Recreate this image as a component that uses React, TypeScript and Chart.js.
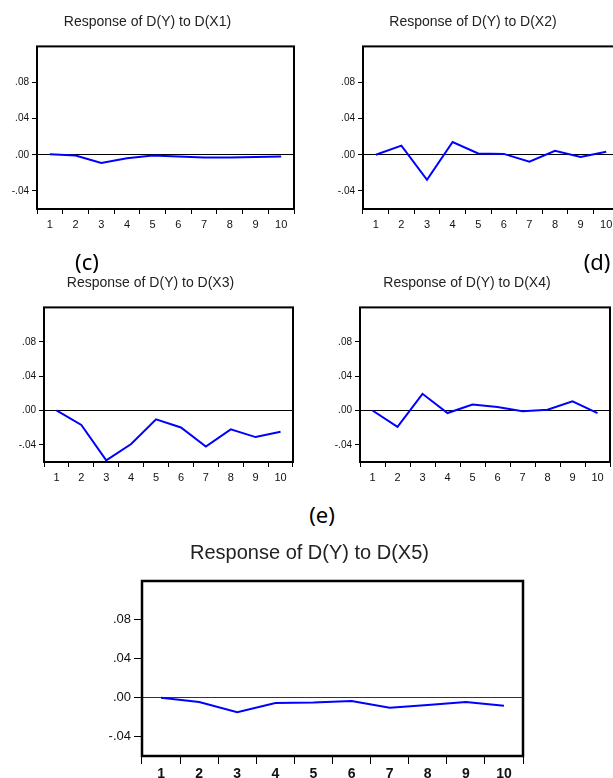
import React, { useEffect, useRef } from 'react';
import { Chart, registerables } from 'chart.js';

Chart.register(...registerables);

// ---- data ----
const periods = ['1', '2', '3', '4', '5', '6', '7', '8', '9', '10'];
const yTickValues = [-0.04, 0, 0.04, 0.08];
const yTickLabels = ['-.04', '.00', '.04', '.08'];
const yMin = -0.06;
const yMax = 0.12;

const respX1 = [0.0007, -0.0007, -0.009, -0.0037, -0.0007, -0.002, -0.003, -0.003, -0.0025, -0.002];
const respX2 = [0.0, 0.0102, -0.0276, 0.0142, 0.0015, 0.001, -0.0076, 0.0044, -0.0025, 0.0033];
const respX3 = [0.0, -0.0168, -0.058, -0.039, -0.0103, -0.0198, -0.042, -0.022, -0.031, -0.0248];
const respX4 = [0.0, -0.019, 0.0194, -0.003, 0.0069, 0.004, -0.0008, 0.0008, 0.0107, -0.003];
const respX5 = [0.0, -0.0044, -0.015, -0.0055, -0.005, -0.0034, -0.0103, -0.0075, -0.0044, -0.0082];

const titles = [
  'Response of D(Y) to D(X1)',
  'Response of D(Y) to D(X2)',
  'Response of D(Y) to D(X3)',
  'Response of D(Y) to D(X4)',
  'Response of D(Y) to D(X5)',
];
const panelLetters = ['(c)', '(d)', '(e)'];

const FONT = "'Liberation Sans', Arial, sans-serif";

const framePlugin = {
  id: 'frame',
  afterDraw(chart: any, _args: any, opts: any) {
    const { ctx, chartArea: a } = chart;
    ctx.save();
    ctx.strokeStyle = '#000';
    ctx.lineWidth = opts.width || 2;
    ctx.strokeRect(a.left, a.top, a.right - a.left, a.bottom - a.top);
    ctx.restore();
  },
};

type Frame = { l: number; t: number; r: number; b: number };
type PanelProps = {
  title: string;
  data: number[];
  frame: Frame;
  titleY: number;
  titleFont: any;
  xFont: any;
  yFont: any;
  yw: number;
  xh: number;
  tickLen: number;
  xPad: number;
  frameWidth: number;
  lineWidth: number;
  zeroColor: string;
};

function Panel(p: PanelProps) {
  const ref = useRef<HTMLCanvasElement>(null);
  const fw = p.frame.r - p.frame.l;
  const fs = p.titleFont.size;
  const pt = 2;
  const canvasTop = p.titleY - 0.6 * fs - pt;
  const pb = p.frame.t - canvasTop - pt - 1.2 * fs;
  const width = fw + 2 * p.yw;
  const height = Math.round(p.frame.b - canvasTop + p.xh);
  const left = p.frame.l - p.yw;

  useEffect(() => {
    if (!ref.current) return;
    const chart = new Chart(ref.current, {
      type: 'line',
      data: {
        labels: periods,
        datasets: [
          {
            data: p.data,
            borderColor: '#0000ff',
            borderWidth: p.lineWidth,
            pointRadius: 0,
            tension: 0,
            fill: false,
          },
        ],
      },
      options: {
        animation: false,
        responsive: false,
        layout: { padding: { left: 0, right: p.yw, top: 0, bottom: 0 } },
        plugins: {
          legend: { display: false },
          tooltip: { enabled: false },
          title: {
            display: true,
            text: p.title,
            color: '#222',
            font: { ...p.titleFont, lineHeight: 1.2 },
            padding: { top: pt, bottom: pb },
          },
          frame: { width: p.frameWidth },
        } as any,
        scales: {
          x: {
            type: 'category',
            offset: true,
            grid: {
              offset: true,
              drawOnChartArea: false,
              drawTicks: true,
              tickLength: p.tickLen,
              tickColor: '#000',
              lineWidth: 1,
            },
            border: { display: false },
            ticks: {
              color: '#111',
              font: p.xFont,
              padding: p.xPad,
              maxRotation: 0,
              autoSkip: false,
            },
            afterFit: (s: any) => {
              s.height = p.xh;
            },
          },
          y: {
            type: 'linear',
            min: yMin,
            max: yMax,
            afterBuildTicks: (s: any) => {
              s.ticks = yTickValues.map((v) => ({ value: v }));
            },
            grid: {
              color: (c: any) => (c.tick && c.tick.value === 0 ? p.zeroColor : 'rgba(0,0,0,0)'),
              tickColor: '#000',
              tickLength: p.tickLen,
              drawTicks: true,
              lineWidth: 1,
            },
            border: { display: false },
            ticks: {
              color: '#111',
              font: p.yFont,
              padding: 3,
              callback: (v: any) => {
                const i = yTickValues.indexOf(Number(v));
                return i >= 0 ? yTickLabels[i] : '';
              },
            },
            afterFit: (s: any) => {
              s.width = p.yw;
            },
          },
        } as any,
      },
      plugins: [framePlugin as any],
    });
    return () => chart.destroy();
  }, []);

  return (
    <canvas
      ref={ref}
      width={width}
      height={height}
      style={{ position: 'absolute', left, top: canvasTop, width, height }}
    />
  );
}

const smallCommon = {
  titleFont: { family: FONT, size: 14, weight: 'normal' },
  xFont: { family: FONT, size: 11 },
  yFont: { family: FONT, size: 10 },
  yw: 36,
  xh: 28,
  tickLen: 5,
  xPad: 4,
  frameWidth: 2,
  lineWidth: 2,
  zeroColor: '#000',
};

const bigCommon = {
  titleFont: { family: FONT, size: 20, weight: 'normal' },
  xFont: { family: FONT, size: 14, weight: 'bold' },
  yFont: { family: FONT, size: 13 },
  yw: 46,
  xh: 26,
  tickLen: 8,
  xPad: 2,
  frameWidth: 2.5,
  lineWidth: 2,
  zeroColor: '#333',
};

const letterStyle = (x: number, y: number): React.CSSProperties => ({
  position: 'absolute',
  left: x,
  top: y,
  transform: 'translate(-50%, -50%)',
  fontFamily: "'Noto Sans', 'Open Sans', sans-serif",
  fontSize: 22,
  lineHeight: 1,
  color: '#000',
  whiteSpace: 'nowrap',
});

export default function App() {
  return (
    <div
      style={{
        position: 'fixed',
        left: 0,
        top: 0,
        width: 613,
        height: 778,
        overflow: 'hidden',
        background: '#fff',
      }}
    >
      <Panel {...smallCommon} title={titles[0]} data={respX1} frame={{ l: 37, t: 46, r: 294, b: 209 }} titleY={22} />
      <Panel {...smallCommon} title={titles[1]} data={respX2} frame={{ l: 363, t: 46, r: 619, b: 209 }} titleY={22} />
      <Panel {...smallCommon} title={titles[2]} data={respX3} frame={{ l: 44, t: 307, r: 293, b: 462 }} titleY={283} />
      <Panel {...smallCommon} title={titles[3]} data={respX4} frame={{ l: 360, t: 307, r: 610, b: 462 }} titleY={283} />
      <Panel {...bigCommon} title={titles[4]} data={respX5} frame={{ l: 142, t: 581, r: 523, b: 756 }} titleY={553} />
      <div style={letterStyle(87, 261)}>{panelLetters[0]}</div>
      <div style={letterStyle(597, 261)}>{panelLetters[1]}</div>
      <div style={letterStyle(322, 514)}>{panelLetters[2]}</div>
    </div>
  );
}
